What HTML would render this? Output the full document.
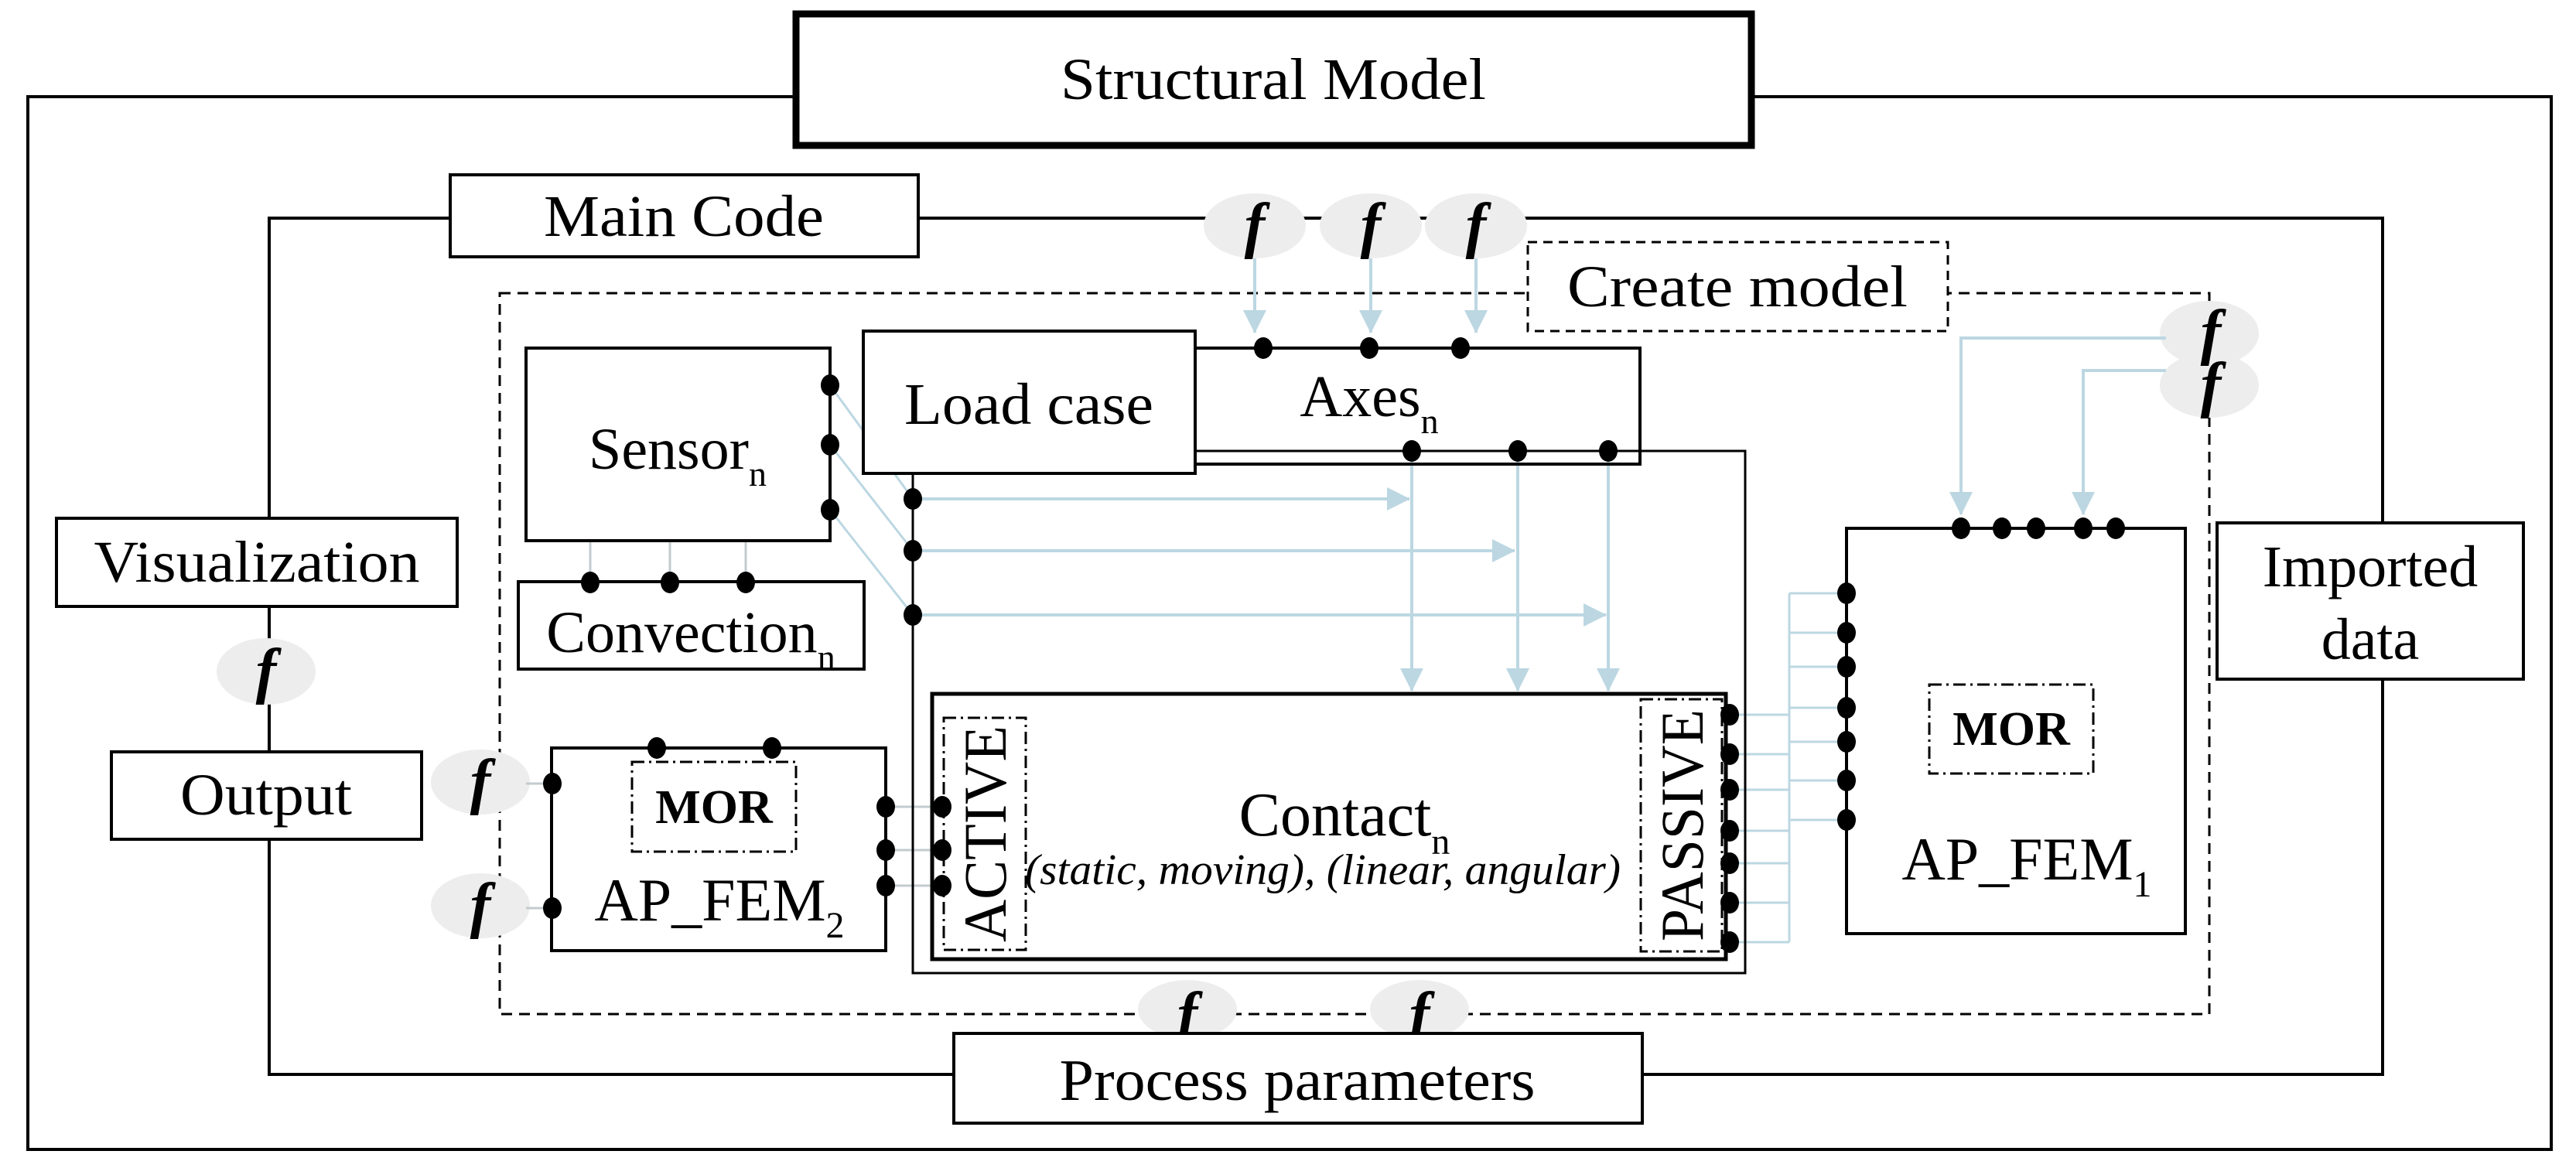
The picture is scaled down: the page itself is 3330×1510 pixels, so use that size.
<!DOCTYPE html>
<html><head><meta charset="utf-8"><style>html,body{margin:0;padding:0;background:#fff}svg{display:block}</style></head>
<body>
<svg xmlns="http://www.w3.org/2000/svg" width="3330" height="1510" viewBox="0 0 3330 1510" font-family="Liberation Serif, serif">
<defs>
<marker id="ah" markerWidth="10" markerHeight="10" refX="9" refY="5" orient="auto" markerUnits="userSpaceOnUse" viewBox="0 0 10 10" style="overflow:visible">
<path d="M-20,-10 L10,5 L-20,20 Z" fill="#bcd7e2"/>
</marker>
</defs>
<g fill="none" stroke="#000">
<!-- outer frame -->
<rect x="36" y="125" width="3262" height="1361" stroke-width="4"/>
<!-- main frame -->
<rect x="348" y="282" width="2732" height="1107" stroke-width="4"/>
<!-- create model dashed -->
<rect x="646" y="379" width="2210" height="932" stroke-width="3" stroke-dasharray="14,9"/>
</g>
<!-- Structural model -->
<rect x="1029" y="18" width="1235" height="170" fill="#fff" stroke="#000" stroke-width="9"/>
<text x="1646" y="128" font-size="76" text-anchor="middle" textLength="550" lengthAdjust="spacingAndGlyphs">Structural Model</text>
<!-- Main code -->
<rect x="582" y="226" width="605" height="106" fill="#fff" stroke="#000" stroke-width="4"/>
<text x="884" y="305" font-size="76" text-anchor="middle" textLength="362" lengthAdjust="spacingAndGlyphs">Main Code</text>
<!-- Create model label -->
<rect x="1975" y="313" width="543" height="115" fill="#fff" stroke="#000" stroke-width="3" stroke-dasharray="12,8"/>
<text x="2246" y="396" font-size="76" text-anchor="middle" textLength="440" lengthAdjust="spacingAndGlyphs">Create model</text>
<!-- Visualization / Output -->
<rect x="73" y="670" width="518" height="114" fill="#fff" stroke="#000" stroke-width="4"/>
<text x="332" y="752" font-size="76" text-anchor="middle" textLength="421" lengthAdjust="spacingAndGlyphs">Visualization</text>
<rect x="144" y="972" width="401" height="113" fill="#fff" stroke="#000" stroke-width="4"/>
<text x="344" y="1053" font-size="76" text-anchor="middle" textLength="222" lengthAdjust="spacingAndGlyphs">Output</text>
<!-- Imported data -->
<rect x="2866" y="676" width="396" height="202" fill="#fff" stroke="#000" stroke-width="4"/>
<text x="3064" y="758" font-size="76" text-anchor="middle">Imported</text>
<text x="3064" y="852" font-size="76" text-anchor="middle">data</text>

<!-- f ellipses -->
<g fill="#ededed">
<ellipse cx="1622" cy="292" rx="66" ry="42"/>
<ellipse cx="1772" cy="292" rx="66" ry="42"/>
<ellipse cx="1908" cy="292" rx="66" ry="42"/>
<ellipse cx="2856" cy="431" rx="64" ry="42"/>
<ellipse cx="2856" cy="498" rx="64" ry="42"/>
<ellipse cx="344" cy="868" rx="64" ry="43"/>
<ellipse cx="621" cy="1011" rx="64" ry="42"/>
<ellipse cx="621" cy="1171" rx="64" ry="42"/>
<ellipse cx="1535" cy="1305" rx="64" ry="38"/>
<ellipse cx="1835" cy="1305" rx="64" ry="38"/>
</g>
<g font-size="80" font-weight="bold" font-style="italic" text-anchor="middle">
<text x="1622" y="318">f</text><text x="1772" y="318">f</text><text x="1908" y="318">f</text>
<text x="2858" y="456">f</text><text x="2858" y="524">f</text>
<text x="344" y="894">f</text>
<text x="621" y="1037">f</text><text x="621" y="1197">f</text>
<text x="1535" y="1338">f</text><text x="1835" y="1338">f</text>
</g>
<!-- process parameters -->
<rect x="1233" y="1336" width="890" height="116" fill="#fff" stroke="#000" stroke-width="4"/>
<text x="1677" y="1422" font-size="76" text-anchor="middle" textLength="615" lengthAdjust="spacingAndGlyphs">Process parameters</text>

<!-- blue connectors -->
<g stroke="#bcd7e2" stroke-width="4" fill="none">
<line x1="1622" y1="334" x2="1622" y2="430" marker-end="url(#ah)"/>
<line x1="1772" y1="334" x2="1772" y2="430" marker-end="url(#ah)"/>
<line x1="1908" y1="334" x2="1908" y2="430" marker-end="url(#ah)"/>
<polyline points="2800,437 2535,437 2535,665" marker-end="url(#ah)"/>
<polyline points="2800,479 2693,479 2693,665" marker-end="url(#ah)"/>
<line x1="1180" y1="645" x2="1822" y2="645" marker-end="url(#ah)"/>
<line x1="1180" y1="712" x2="1958" y2="712" marker-end="url(#ah)"/>
<line x1="1180" y1="795" x2="2076" y2="795" marker-end="url(#ah)"/>
<line x1="1825" y1="583" x2="1825" y2="893" marker-end="url(#ah)"/>
<line x1="1962" y1="583" x2="1962" y2="893" marker-end="url(#ah)"/>
<line x1="2079" y1="583" x2="2079" y2="893" marker-end="url(#ah)"/>
<line x1="1073" y1="498" x2="1180" y2="645" stroke-width="3"/>
<line x1="1073" y1="575" x2="1180" y2="712" stroke-width="3"/>
<line x1="1073" y1="659" x2="1180" y2="795" stroke-width="3"/>
<line x1="2313" y1="767" x2="2313" y2="1218" stroke-width="3"/>
<g stroke-width="3">
<line x1="2236" y1="924" x2="2313" y2="924"/><line x1="2236" y1="975" x2="2313" y2="975"/>
<line x1="2236" y1="1021" x2="2313" y2="1021"/><line x1="2236" y1="1074" x2="2313" y2="1074"/>
<line x1="2236" y1="1116" x2="2313" y2="1116"/><line x1="2236" y1="1167" x2="2313" y2="1167"/>
<line x1="2236" y1="1218" x2="2313" y2="1218"/>
<line x1="2313" y1="767" x2="2387" y2="767"/><line x1="2313" y1="818" x2="2387" y2="818"/>
<line x1="2313" y1="862" x2="2387" y2="862"/><line x1="2313" y1="915" x2="2387" y2="915"/>
<line x1="2313" y1="959" x2="2387" y2="959"/><line x1="2313" y1="1009" x2="2387" y2="1009"/>
<line x1="2313" y1="1060" x2="2387" y2="1060"/>
</g>
</g>
<!-- gray connectors -->
<g stroke="#c3cbcf" stroke-width="3">
<line x1="763" y1="699" x2="763" y2="753"/><line x1="866" y1="699" x2="866" y2="753"/><line x1="964" y1="699" x2="964" y2="753"/>
<line x1="1145" y1="1043" x2="1218" y2="1043"/><line x1="1145" y1="1099" x2="1218" y2="1099"/><line x1="1145" y1="1145" x2="1218" y2="1145"/>
<line x1="680" y1="1013" x2="714" y2="1013"/><line x1="680" y1="1174" x2="714" y2="1174"/>
</g>

<!-- boxes -->
<g fill="none" stroke="#000" stroke-width="4">
<rect x="680" y="450" width="393" height="249"/>
<rect x="670" y="752" width="447" height="113"/>
<polyline points="1545,583 2256,583 2256,1258 1180,1258 1180,612" stroke-width="3"/>
<rect x="1545" y="450" width="575" height="150"/>
<rect x="1205" y="897" width="1026" height="343" stroke-width="5"/>
<rect x="713" y="967" width="432" height="262"/>
<rect x="2387" y="683" width="438" height="524"/>
</g>
<rect x="1116" y="428" width="429" height="184" fill="#fff" stroke="#000" stroke-width="4"/>
<g fill="none" stroke="#000" stroke-width="3" stroke-dasharray="16,6,3,6">
<rect x="1220" y="928" width="106" height="300"/>
<rect x="2121" y="904" width="105" height="326"/>
<rect x="817" y="985" width="212" height="116"/>
<rect x="2494" y="885" width="212" height="115"/>
</g>

<!-- texts -->
<text x="1330" y="548" font-size="76" text-anchor="middle" textLength="322" lengthAdjust="spacingAndGlyphs">Load case</text>
<text x="1770" y="538" font-size="76" text-anchor="middle">Axes<tspan font-size="46" dy="22">n</tspan></text>
<text x="876" y="606" font-size="76" text-anchor="middle">Sensor<tspan font-size="46" dy="22">n</tspan></text>
<text x="893" y="843" font-size="76" text-anchor="middle">Convection<tspan font-size="46" dy="22">n</tspan></text>
<text x="1738" y="1080" font-size="80" text-anchor="middle">Contact<tspan font-size="48" dy="24">n</tspan></text>
<text x="1710" y="1143" font-size="56" font-style="italic" text-anchor="middle" textLength="770" lengthAdjust="spacingAndGlyphs">(static, moving), (linear, angular)</text>
<text transform="translate(1300,1078) rotate(-90)" font-size="78" text-anchor="middle" textLength="280" lengthAdjust="spacingAndGlyphs">ACTIVE</text>
<text transform="translate(2201,1067) rotate(-90)" font-size="78" text-anchor="middle" textLength="300" lengthAdjust="spacingAndGlyphs">PASSIVE</text>
<text x="923" y="1064" font-size="62" font-weight="bold" text-anchor="middle">MOR</text>
<text x="2600" y="963" font-size="62" font-weight="bold" text-anchor="middle">MOR</text>
<text x="930" y="1190" font-size="78" text-anchor="middle">AP_FEM<tspan font-size="48" dy="22">2</tspan></text>
<text x="2620" y="1137" font-size="78" text-anchor="middle">AP_FEM<tspan font-size="48" dy="22">1</tspan></text>

<!-- dots -->
<g fill="#000">
<ellipse cx="1633" cy="450" rx="12" ry="14"/><ellipse cx="1770" cy="450" rx="12" ry="14"/><ellipse cx="1888" cy="450" rx="12" ry="14"/>
<ellipse cx="1825" cy="583" rx="12" ry="14"/><ellipse cx="1962" cy="583" rx="12" ry="14"/><ellipse cx="2079" cy="583" rx="12" ry="14"/>
<ellipse cx="1073" cy="498" rx="12" ry="14"/><ellipse cx="1073" cy="575" rx="12" ry="14"/><ellipse cx="1073" cy="659" rx="12" ry="14"/>
<ellipse cx="1180" cy="645" rx="12" ry="14"/><ellipse cx="1180" cy="712" rx="12" ry="14"/><ellipse cx="1180" cy="795" rx="12" ry="14"/>
<ellipse cx="763" cy="753" rx="12" ry="14"/><ellipse cx="866" cy="753" rx="12" ry="14"/><ellipse cx="964" cy="753" rx="12" ry="14"/>
<ellipse cx="849" cy="967" rx="12" ry="14"/><ellipse cx="998" cy="967" rx="12" ry="14"/>
<ellipse cx="714" cy="1013" rx="12" ry="14"/><ellipse cx="714" cy="1174" rx="12" ry="14"/>
<ellipse cx="1145" cy="1043" rx="12" ry="14"/><ellipse cx="1145" cy="1099" rx="12" ry="14"/><ellipse cx="1145" cy="1145" rx="12" ry="14"/>
<ellipse cx="1218" cy="1043" rx="12" ry="14"/><ellipse cx="1218" cy="1099" rx="12" ry="14"/><ellipse cx="1218" cy="1145" rx="12" ry="14"/>
<ellipse cx="2236" cy="924" rx="12" ry="14"/><ellipse cx="2236" cy="975" rx="12" ry="14"/><ellipse cx="2236" cy="1021" rx="12" ry="14"/>
<ellipse cx="2236" cy="1074" rx="12" ry="14"/><ellipse cx="2236" cy="1116" rx="12" ry="14"/><ellipse cx="2236" cy="1167" rx="12" ry="14"/>
<ellipse cx="2236" cy="1218" rx="12" ry="14"/>
<ellipse cx="2387" cy="767" rx="12" ry="14"/><ellipse cx="2387" cy="818" rx="12" ry="14"/><ellipse cx="2387" cy="862" rx="12" ry="14"/>
<ellipse cx="2387" cy="915" rx="12" ry="14"/><ellipse cx="2387" cy="959" rx="12" ry="14"/><ellipse cx="2387" cy="1009" rx="12" ry="14"/>
<ellipse cx="2387" cy="1060" rx="12" ry="14"/>
<ellipse cx="2535" cy="683" rx="12" ry="14"/><ellipse cx="2588" cy="683" rx="12" ry="14"/><ellipse cx="2632" cy="683" rx="12" ry="14"/>
<ellipse cx="2693" cy="683" rx="12" ry="14"/><ellipse cx="2735" cy="683" rx="12" ry="14"/>
</g>
</svg>
</body></html>
